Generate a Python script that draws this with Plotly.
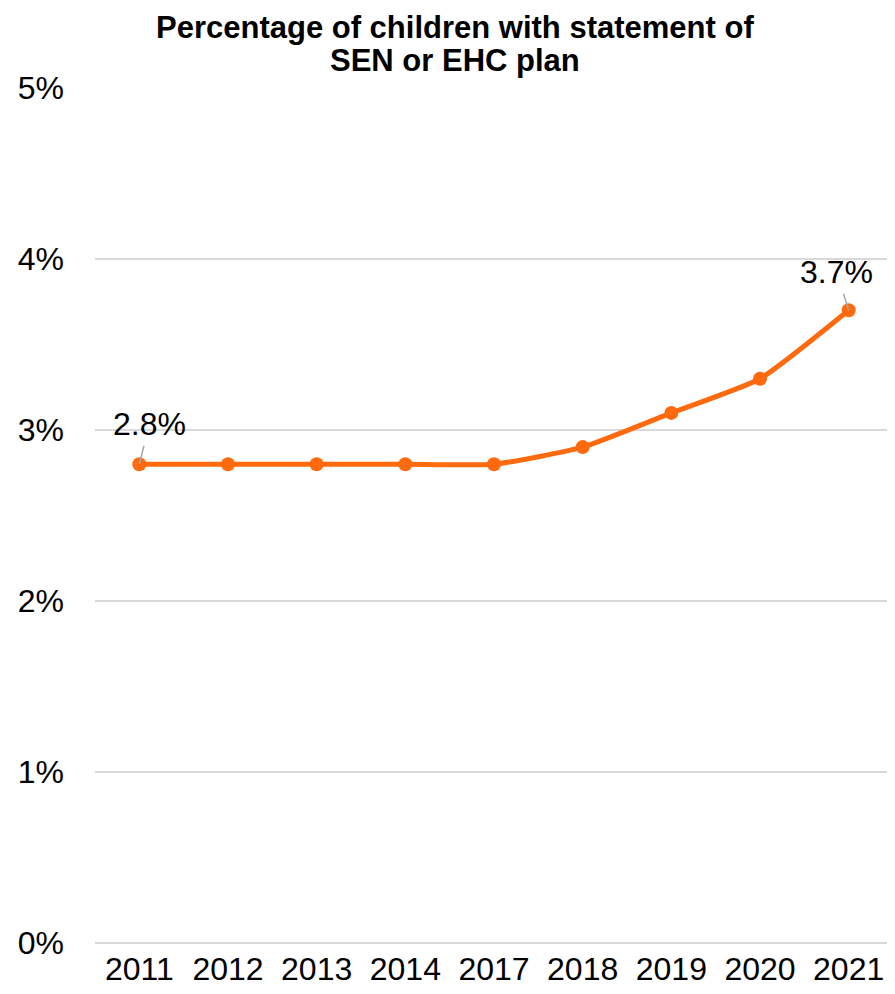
import plotly.graph_objects as go

years = ["2011", "2012", "2013", "2014", "2017", "2018", "2019", "2020", "2021"]
values = [2.8, 2.8, 2.8, 2.8, 2.8, 2.9, 3.1, 3.3, 3.7]
y_ticks = [0, 1, 2, 3, 4, 5]
y_tick_labels = ["0%", "1%", "2%", "3%", "4%", "5%"]
title_lines = ["Percentage of children with statement of", "SEN or EHC plan"]

ORANGE = "#FF6A0E"
GRID = "#D9D9D9"
FONT = "Liberation Sans, Arial, sans-serif"
xpos = list(range(len(years)))

fig = go.Figure()
fig.add_trace(go.Scatter(
    x=xpos, y=values, mode="lines+markers",
    line=dict(color=ORANGE, width=5, shape="spline", smoothing=0.5),
    marker=dict(color=ORANGE, size=14),
    hoverinfo="skip", showlegend=False,
))

# data labels on first and last points
for idx, ax, ay in [(0, 10, -40), (len(years) - 1, -12, -38)]:
    fig.add_annotation(
        x=xpos[idx], y=values[idx], text=f"{values[idx]:.1f}%",
        showarrow=True, arrowhead=0, arrowwidth=1.5, arrowcolor="#A6A6A6",
        ax=ax, ay=ay, borderpad=3, standoff=0,
        font=dict(family=FONT, size=32, color="#000000"),
    )

# chart title (two lines)
for line, ypos in zip(title_lines, [1.0713, 1.0316]):
    fig.add_annotation(
        xref="paper", yref="paper", x=0.451, y=ypos,
        xanchor="center", yanchor="middle", showarrow=False,
        text=f"<b>{line}</b>", font=dict(family=FONT, size=31, color="#000000"),
    )

fig.update_layout(
    width=895, height=994,
    margin=dict(l=87, r=10, t=80, b=59, autoexpand=False),
    paper_bgcolor="white", plot_bgcolor="white",
    font=dict(family=FONT, size=32, color="#000000"),
)
fig.update_xaxes(
    range=[-0.5, len(years) - 0.5], tickvals=xpos, ticktext=years,
    showgrid=False, showline=False, zeroline=False,
    ticks="", tickfont=dict(family=FONT, size=32, color="#000000"),
    ticklabelstandoff=4, automargin=False,
)
fig.update_yaxes(
    range=[0, 5], tickvals=y_ticks, ticktext=y_tick_labels,
    showgrid=True, gridcolor=GRID, gridwidth=1.5,
    zeroline=True, zerolinecolor=GRID, zerolinewidth=1.5,
    showline=False, ticks="",
    tickfont=dict(family=FONT, size=32, color="#000000"),
    ticklabelstandoff=30, automargin=False,
)

fig.write_html("out.html")
